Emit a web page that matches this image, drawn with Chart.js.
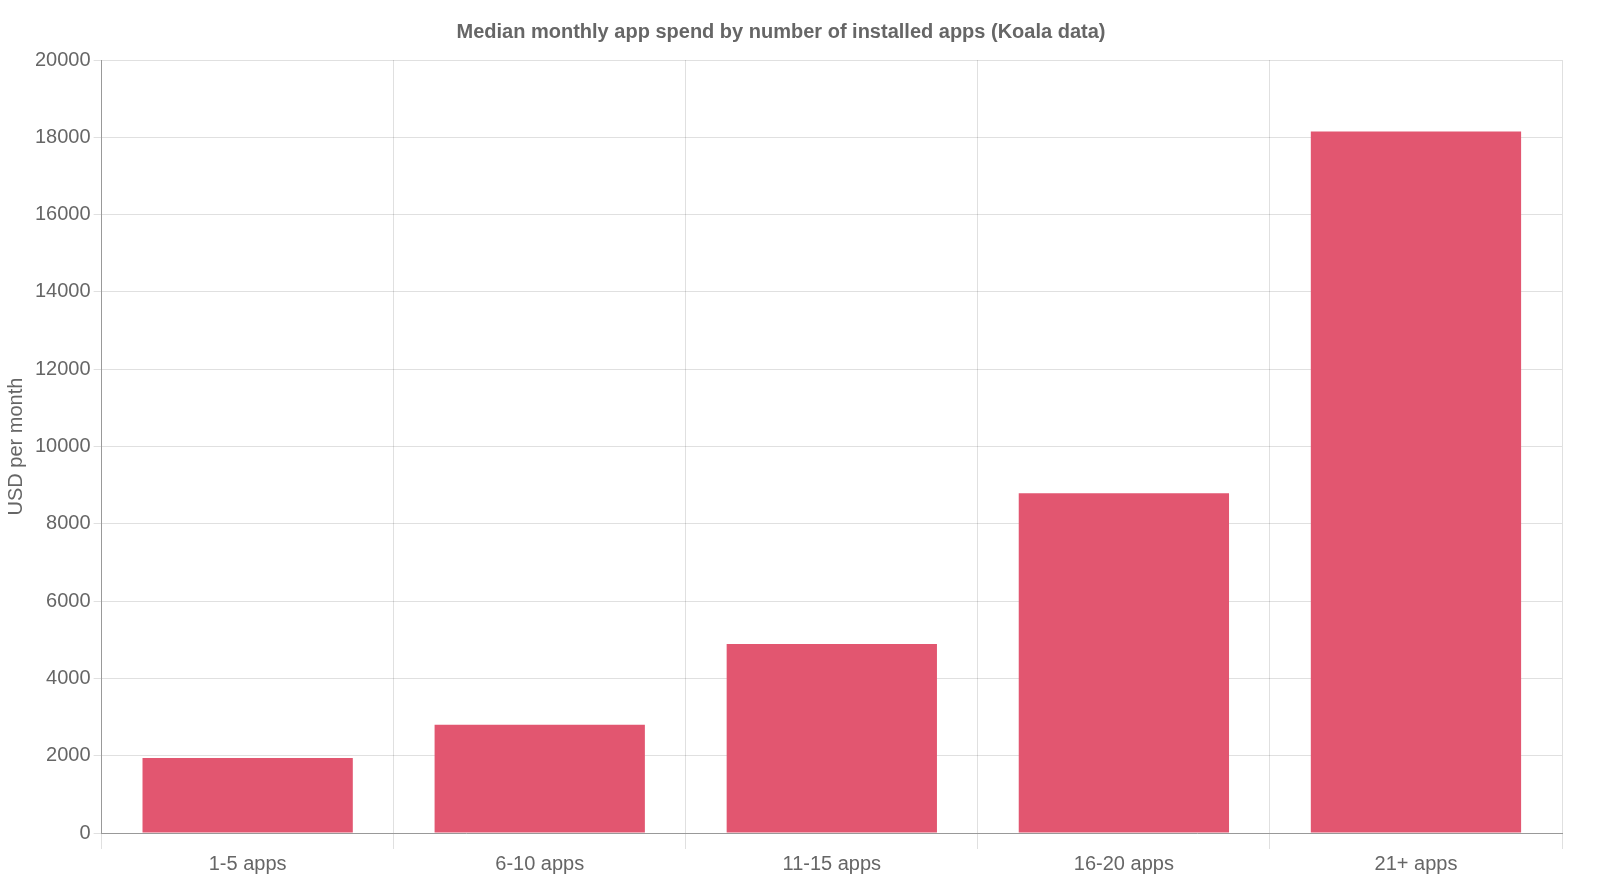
<!DOCTYPE html>
<html><head><meta charset="utf-8">
<script src="https://cdn.jsdelivr.net/npm/chart.js@4"></script>
<style>html,body{margin:0;padding:0;background:#fff;overflow:hidden}#w{width:1600px;height:889px;position:relative}</style>
</head><body><div id="w"><canvas id="c"></canvas></div>
<script>
const categories = ["1-5 apps","6-10 apps","11-15 apps","16-20 apps","21+ apps"];
const spend = [1940, 2800, 4890, 8790, 18150];
const yTicks = [0,2000,4000,6000,8000,10000,12000,14000,16000,18000,20000];
Chart.defaults.font.family = "'Liberation Sans', Arial, sans-serif";
Chart.defaults.color = "#666";
new Chart(document.getElementById('c'), {
  type: 'bar',
  data: { labels: categories, datasets: [{ data: spend, backgroundColor: '#e25670' }] },
  options: {
    responsive: true, maintainAspectRatio: false, animation: false,
    layout: { padding: { left: 0, right: 38, top: 4, bottom: 10 } },
    plugins: {
      legend: { display: false },
      title: { display: true, text: 'Median monthly app spend by number of installed apps (Koala data)',
        font: { size: 20, weight: 'bold' }, padding: { top: 16, bottom: 16 } },
      tooltip: { enabled: false }
    },
    scales: {
      x: { grid: { color: 'rgba(0,0,0,0.12)', tickLength: 16 }, ticks: { font: { size: 20 } },
        border: { color: '#999' } },
      y: { min: 0, max: 20000, afterBuildTicks: a => { a.ticks = yTicks.map(v => ({ value: v })); },
        grid: { color: 'rgba(0,0,0,0.12)', tickLength: 8 },
        ticks: { font: { size: 20 }, callback: v => String(v) },
        border: { color: '#999' },
        title: { display: true, text: 'USD per month', font: { size: 20 } } }
    }
  }
});
</script></body></html>
